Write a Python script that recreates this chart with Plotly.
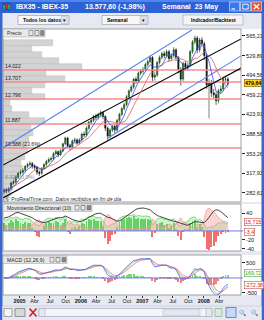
import pandas as pd
import numpy as np
import plotly.graph_objects as go

W, H = 264, 320
FONT = "Liberation Sans"

# ---------------- data ----------------
bar_start = "2004-10-01"
bar_count = 96
bar_step = "14D"
first_open = 284.0
close = [287.9, 286.1, 289.6, 300.2, 302.0, 310.8, 317.9, 319.7, 323.2, 330.3,
         333.8, 335.6, 330.3, 328.5, 319.7, 317.9, 326.7, 333.8, 339.1, 342.6,
         344.4, 353.2, 356.8, 351.5, 358.5, 370.9, 381.5, 367.4, 363.8, 376.2,
         378.0, 372.7, 378.0, 388.6, 386.8, 399.2, 409.8, 413.3, 420.3, 418.6,
         423.9, 427.4, 420.3, 399.2, 385.0, 395.6, 402.7, 395.6, 413.3, 423.9,
         434.5, 441.5, 455.7, 466.3, 473.3, 487.5, 483.9, 498.1, 501.6, 505.1,
         514.0, 519.3, 526.3, 491.0, 494.5, 517.5, 526.3, 533.4, 529.8, 536.9,
         524.6, 529.8, 540.4, 526.3, 505.1, 487.5, 515.7, 508.7, 512.2, 536.9,
         554.6, 561.6, 540.4, 558.1, 551.0, 529.8, 476.9, 480.4, 462.7, 459.2,
         448.6, 466.3, 469.8, 487.5, 487.5, 479.6]
high = [291, 291, 293, 303, 306, 313, 320, 324, 327, 333,
        337, 340, 338, 334, 331, 323, 329, 336, 342, 346,
        348, 356, 360, 359, 361, 373, 384, 383, 371, 379,
        382, 381, 381, 391, 393, 402, 412, 417, 423, 425,
        427, 431, 430, 422, 402, 399, 406, 406, 416, 427,
        437, 445, 459, 469, 477, 490, 492, 501, 506, 509,
        517, 523, 530, 529, 500, 520, 530, 537, 538, 541,
        540, 534, 545, 543, 529, 509, 519, 520, 517, 540,
        558, 566, 565, 562, 563, 555, 533, 488, 486, 470,
        464, 470, 476, 492, 494, 491]
low = [281, 282, 283, 287, 297, 299, 308, 314, 316, 320,
       327, 330, 326, 324, 315, 313, 315, 324, 331, 336,
       339, 342, 350, 347, 349, 356, 368, 363, 359, 361,
       372, 369, 370, 375, 383, 384, 396, 406, 410, 414,
       415, 420, 415, 394, 378, 381, 392, 390, 393, 410,
       421, 431, 439, 452, 463, 470, 479, 481, 494, 497,
       502, 510, 516, 484, 485, 492, 514, 523, 525, 526,
       519, 520, 526, 520, 498, 476, 484, 503, 503, 509,
       533, 550, 534, 536, 545, 522, 470, 416.8, 455, 452,
       441, 444, 461, 466, 480, 475]

di_plus = [26, 24, 27, 31, 29, 32, 30, 27, 26, 29, 28, 27, 20, 17, 13, 12, 19,
           24, 27, 29, 28, 27, 31, 30, 25, 28, 33, 18, 15, 22, 22, 19, 23, 27,
           26, 30, 33, 32, 34, 30, 31, 31, 24, 13, 9, 12, 16, 16, 24,
           29, 32, 33, 35, 36, 35, 37, 33, 35, 34, 33, 34, 33, 32, 14, 18,
           27, 29, 30, 26, 27, 22, 25, 28, 21, 13, 10, 19,
           20, 21, 29, 31, 32, 24, 27, 23, 14, 6, 8, 9, 10, 14, 18, 18, 20, 17, 15.7]
di_minus = [9, 11, 10, 7, 8, 6, 7, 9, 10, 8, 9, 10, 14, 18, 24, 25, 17,
            12, 10, 9, 10, 10, 8, 9, 13, 10, 7, 21, 23, 16, 13, 16, 12, 10,
            10, 8, 6, 7, 6, 8, 8, 8, 12, 30, 38, 34, 26, 24, 14,
            9, 7, 6, 5, 5, 5, 4, 7, 5, 6, 7, 6, 6, 7, 27, 22,
            12, 10, 9, 12, 11, 16, 13, 10, 16, 24, 30, 20,
            17, 16, 10, 9, 8, 16, 12, 15, 28, 48, 52, 46, 44, 38, 30, 26, 22, 21, 19.1]
adx = [29, 30, 32, 35, 38, 41, 42, 40, 38, 36, 35, 33, 30, 26, 23, 21, 20,
       19, 20, 22, 24, 26, 28, 30, 30, 31, 34, 32, 29, 26, 24, 22, 21, 22,
       24, 27, 31, 34, 37, 39, 40, 40, 37, 33, 31, 30, 28, 25, 22,
       23, 26, 30, 34, 38, 42, 46, 49, 51, 52, 52, 51, 50, 48, 43, 38,
       35, 33, 31, 29, 27, 25, 23, 22, 21, 19, 17, 15,
       14, 13, 15, 18, 21, 21, 20, 19, 19, 24, 32, 40, 45, 48, 47, 44, 40, 34, 30]

last_quote = 13577.60
last_axis = 479.64

price_ticks = [565.21, 529.89, 494.56, 459.23, 423.91, 388.58, 353.26, 317.93, 282.61]
price_ticktext = ["565,21", "529,89", "494,56", "459,23", "423,91", "388,58", "353,26", "317,93", "282,61"]
dmi_ticks = [40, -20, -40]
dmi_ticktext = ["40", "-20", "-40"]
macd_ticks = [500, -500]
macd_ticktext = ["500", "-500"]

level_values = [503.9, 482.3, 451.7, 406.6, 363.4]
level_labels = ["14.022", "13.707", "12.796", "11.887", "10.588 (23,6%)"]
fib_base_value = 304.0
fib_base_label = "8.928 (0,0%)"

profile_levels = [552.6, 541.8, 531.0, 520.2, 509.3, 498.5, 487.7, 476.9, 466.1, 455.3,
                  444.5, 433.7, 422.8, 412.0, 401.2, 390.4, 379.6, 368.8, 358.0, 347.2,
                  336.4, 325.5, 314.7, 303.9, 293.1, 282.3, 271.5]
profile_volume = [50, 29, 39, 56, 79, 43, 62, 42, 29, 42, 7, 9, 26, 42, 28, 30, 26,
                  24, 25, 22, 18, 20, 16, 12, 10, 8, 5]

x_range = ["2004-09-25", "2008-08-09"]
black_upper_dates = ["2004-09-25", "2008-08-09"]
black_upper_values = [332.7, 559.8]
black_lower_dates = ["2004-09-25", "2008-08-09"]
black_lower_values = [273.3, 507.5]
blue_upper_dates = ["2004-09-25", "2007-10-22"]
blue_upper_values = [363.4, 576.0]
blue_lower_dates = ["2006-06-11", "2008-08-09"]
blue_lower_values = [381.4, 529.2]

date_tickvals = ["2005-01-01", "2005-04-01", "2005-07-01", "2005-10-01",
                 "2006-01-01", "2006-04-01", "2006-07-01", "2006-10-01",
                 "2007-01-01", "2007-04-01", "2007-07-01", "2007-10-01",
                 "2008-01-01", "2008-04-01"]
date_ticktext = ["<b>2005</b>", "Abr", "Jul", "Oct", "<b>2006</b>", "Abr", "Jul", "Oct",
                 "<b>2007</b>", "Abr", "Jul", "Oct", "<b>2008</b>", "Abr"]

# ---------------- derived ----------------
dates = pd.date_range(bar_start, periods=bar_count, freq=bar_step)
opens = [first_open] + close[:-1]
cs = pd.Series(close)
ma_fast = cs.rolling(5, min_periods=1).mean()
ma_slow = cs.rolling(10, min_periods=1).mean()
q = cs * (last_quote / last_axis)
macd = q.ewm(span=6, adjust=False).mean() - q.ewm(span=13, adjust=False).mean()
signal = macd.ewm(span=4.5, adjust=False).mean()
macd_green = macd.ewm(span=2.5, adjust=False).mean()
macd_hist = macd - signal
dmi_hist = [p - m for p, m in zip(di_plus, di_minus)]


def px(x):
    return x / W


def py(y):
    return 1 - y / H


# panel geometry (pixels)
PL, PR = 3, 241
MAIN = (29, 202)
DMI = (204, 251)
MACD = (255, 295)

fig = go.Figure()

# volume profile (base axes)
fig.add_trace(go.Bar(x=profile_volume, y=profile_levels, orientation="h", width=9.3,
                     marker=dict(color="#d3d3d3", line=dict(color="#b9b9b9", width=0.5)),
                     xaxis="x", yaxis="y", hoverinfo="skip"))

# horizontal levels
for v in level_values:
    fig.add_trace(go.Scatter(x=x_range, y=[v, v], mode="lines",
                             line=dict(color="#f58c8c", width=1.6),
                             xaxis="x2", yaxis="y", hoverinfo="skip"))

# channel lines
for dx, vy, col in [(blue_upper_dates, blue_upper_values, "#5a88f0"),
                    (blue_lower_dates, blue_lower_values, "#5a88f0"),
                    (black_upper_dates, black_upper_values, "#000000"),
                    (black_lower_dates, black_lower_values, "#000000")]:
    fig.add_trace(go.Scatter(x=dx, y=vy, mode="lines", line=dict(color=col, width=1.1),
                             xaxis="x2", yaxis="y", hoverinfo="skip"))

# candles
fig.add_trace(go.Candlestick(x=dates, open=opens, high=high, low=low, close=close,
                             increasing=dict(line=dict(color="#0d3b0d", width=0.6), fillcolor="#2b9a2b"),
                             decreasing=dict(line=dict(color="#000000", width=0.6), fillcolor="#222222"),
                             whiskerwidth=0, xaxis="x2", yaxis="y", hoverinfo="skip"))

# moving averages
fig.add_trace(go.Scatter(x=dates, y=ma_slow, mode="lines", line=dict(color="#e86a6a", width=0.9),
                         xaxis="x2", yaxis="y", hoverinfo="skip"))
fig.add_trace(go.Scatter(x=dates, y=ma_fast, mode="lines", line=dict(color="#3a48f0", width=0.8),
                         xaxis="x2", yaxis="y", hoverinfo="skip"))

# DMI panel
bw = 14 * 86400000 * 0.4
fig.add_trace(go.Bar(x=dates, y=dmi_hist, width=bw,
                     marker=dict(color=["#3cba3c" if h >= 0 else "#f07070" for h in dmi_hist], line=dict(width=0)),
                     xaxis="x3", yaxis="y2", hoverinfo="skip"))
fig.add_trace(go.Scatter(x=dates, y=di_plus, mode="lines", fill="tozeroy",
                         fillcolor="rgba(150,235,150,0.45)", line=dict(color="#5cc85c", width=0.7),
                         xaxis="x3", yaxis="y2", hoverinfo="skip"))
fig.add_trace(go.Scatter(x=dates, y=di_minus, mode="lines", fill="tozeroy",
                         fillcolor="rgba(250,160,160,0.45)", line=dict(color="#f09090", width=0.7),
                         xaxis="x3", yaxis="y2", hoverinfo="skip"))
fig.add_trace(go.Scatter(x=dates, y=adx, mode="lines", line=dict(color="#303030", width=0.9),
                         xaxis="x3", yaxis="y2", hoverinfo="skip"))

# MACD panel
fig.add_trace(go.Bar(x=dates, y=macd_hist, width=bw,
                     marker=dict(color=["#7cd67c" if h >= 0 else "#f08080" for h in macd_hist], line=dict(width=0)),
                     xaxis="x4", yaxis="y3", hoverinfo="skip"))
fig.add_trace(go.Scatter(x=dates, y=macd_green, mode="lines", line=dict(color="#7ad07a", width=0.8),
                         xaxis="x4", yaxis="y3", hoverinfo="skip"))
fig.add_trace(go.Scatter(x=dates, y=signal, mode="lines", line=dict(color="#f07070", width=0.8),
                         xaxis="x4", yaxis="y3", hoverinfo="skip"))
fig.add_trace(go.Scatter(x=dates, y=macd, mode="lines", line=dict(color="#4a5cf5", width=0.8),
                         xaxis="x4", yaxis="y3", hoverinfo="skip"))

# ---------------- chrome ----------------
shapes = []
annotations = []


def rect(x0, y0, x1, y1, fill=None, line=None, lw=0, layer="above"):
    shapes.append(dict(type="rect", xref="paper", yref="paper", x0=px(x0), x1=px(x1),
                       y0=py(y1), y1=py(y0), fillcolor=fill or "rgba(0,0,0,0)",
                       line=dict(color=line or "rgba(0,0,0,0)", width=lw), layer=layer))


def seg(x0, y0, x1, y1, color, lw=1, layer="above"):
    shapes.append(dict(type="line", xref="paper", yref="paper", x0=px(x0), y0=py(y0),
                       x1=px(x1), y1=py(y1), line=dict(color=color, width=lw), layer=layer))


def text(x, y, s, size=5.5, color="black", xanchor="left", bold=False, **kw):
    annotations.append(dict(xref="paper", yref="paper", x=px(x), y=py(y),
                            text=("<b>%s</b>" % s if bold else s), showarrow=False,
                            xanchor=xanchor, yanchor="middle",
                            font=dict(family=FONT, size=size, color=color), **kw))


# title bar
rect(0, 0, 264, 13, fill="#2c62d6")
rect(0, 0, 264, 2, fill="#4f86ee")
rect(2.5, 2.5, 10.5, 10.5, fill="#1f4fb8")
rect(3.3, 5, 4.8, 9.5, fill="#30c030")
rect(5.8, 3.5, 7.3, 8.5, fill="#e03030")
rect(8.3, 4.5, 9.8, 9, fill="#30c030")
text(14, 6.7, "IBX35 - IBEX-35", size=7, color="white", bold=True)
text(83, 6.7, "13.577,60 (-1,98%)", size=7, color="white", bold=True)
text(160, 6.7, "Semanal  23 May", size=7, color="white", bold=True)
rect(229.5, 2, 239.5, 11, fill="#3d78ea", line="#e8eefc", lw=0.6)
seg(231.5, 9, 235, 9, "white", 1.3)
rect(240.5, 2, 250.5, 11, fill="#3d78ea", line="#e8eefc", lw=0.6)
rect(242.8, 4.2, 248.2, 9, line="white", lw=0.9)
rect(251.5, 2, 261.5, 11, fill="#e0563a", line="#f8e8e0", lw=0.6)
seg(253.8, 4.2, 259.2, 9, "white", 1.2)
seg(253.8, 9, 259.2, 4.2, "white", 1.2)

# toolbar
rect(0, 13, 264, 28.5, fill="#e6e9f1")
rect(18, 15.5, 69, 24.5, fill="#f7f7f7", line="#8e96a6", lw=0.6)
text(21, 20, "Todos los datos", size=5, bold=True)
rect(61, 16.5, 68, 23.5, fill="#dfe3ec", line="#a8aebc", lw=0.4)
text(64.5, 20, "▾", size=5, xanchor="center")
rect(102, 15.5, 148, 24.5, fill="#f7f7f7", line="#8e96a6", lw=0.6)
text(105, 20, "Semanal", size=5, bold=True)
rect(140, 16.5, 147, 23.5, fill="#dfe3ec", line="#a8aebc", lw=0.4)
text(143.5, 20, "▾", size=5, xanchor="center")
rect(183, 15, 243, 25, fill="#f3f3f3", line="#a0a4ae", lw=0.6)
text(213, 20, "Indicador/Backtest", size=5, bold=True, xanchor="center")

# window frame
rect(0, 13, 2.5, 320, fill="#3a66d2")
rect(261.5, 13, 264, 320, fill="#3a66d2")

# right axis white areas and panel borders
for (t, b) in [MAIN, DMI, MACD]:
    rect(PR, t, 261.5, b, fill="white", layer="below")
    rect(PL, t, PR, b, line="#8a8a8a", lw=0.8)

# headers
rect(PL, MAIN[0], 45, MAIN[0] + 8, fill="#e9e9e9", line="#9a9a9a", lw=0.5)
text(4.5, MAIN[0] + 4, "Precio", size=5.2, color="#303030")
rect(29, MAIN[0] + 1.5, 33, MAIN[0] + 6.5, line="#555", lw=0.5)
rect(35, MAIN[0] + 1.5, 39, MAIN[0] + 6.5, line="#555", lw=0.6)
rect(40.5, MAIN[0] + 1.5, 44, MAIN[0] + 6.5, fill="#888", line="#555", lw=0.4)
rect(PL, DMI[0], 92, DMI[0] + 7.5, fill="#e9e9e9", line="#9a9a9a", lw=0.5)
text(4.5, DMI[0] + 3.8, "Movimiento Direccional (10)", size=5.2, color="#202020")
rect(75, DMI[0] + 1.5, 79, DMI[0] + 6, line="#555", lw=0.5)
rect(81, DMI[0] + 1.5, 85, DMI[0] + 6, line="#555", lw=0.6)
rect(87, DMI[0] + 1.5, 91, DMI[0] + 6, fill="#888", line="#555", lw=0.4)
rect(PL, MACD[0] + 1, 67, MACD[0] + 8.5, fill="#e9e9e9", line="#9a9a9a", lw=0.5)
text(4.5, MACD[0] + 4.8, "MACD (12,26,9)", size=5.2, color="#202020")
rect(50, MACD[0] + 2.5, 54, MACD[0] + 7, line="#555", lw=0.5)
rect(56, MACD[0] + 2.5, 60, MACD[0] + 7, line="#555", lw=0.6)
rect(62, MACD[0] + 2.5, 66, MACD[0] + 7, fill="#888", line="#555", lw=0.4)

# level labels
for v, lab in zip(level_values, level_labels):
    annotations.append(dict(xref="paper", yref="y", x=px(4), y=v, text=lab, showarrow=False,
                            xanchor="left", yanchor="bottom", borderpad=0,
                            font=dict(family=FONT, size=5.2, color="#202020")))
annotations.append(dict(xref="paper", yref="y", x=px(4), y=fib_base_value, text=fib_base_label,
                        showarrow=False, xanchor="left", yanchor="bottom", borderpad=0,
                        font=dict(family=FONT, size=5.2, color="#8a8a8a")))

# watermark
text(4, 198.5, "© ProRealTime.com  <i>Datos recibidos en fin de día</i>", size=5.2, color="#303030")

# value boxes
text(243.5, 83, "<b>479,64</b>", size=5.3, bgcolor="#ffd21e", bordercolor="#7a5a00", borderwidth=0.6, borderpad=0.5)
text(244, 221.7, "15,715", size=5.3, color="#d02020", bgcolor="white", bordercolor="#c05050", borderwidth=0.6, borderpad=0.5)
text(244, 232, "-3,4", size=5.3, color="#d02020", bgcolor="white", bordercolor="#c05050", borderwidth=0.6, borderpad=0.5)
text(244, 273, "169,72", size=5.3, color="#1f9a1f", bgcolor="white", bordercolor="#40a040", borderwidth=0.6, borderpad=0.5)
text(244, 285, "-272,38", size=5.3, color="#d02020", bgcolor="white", bordercolor="#c05050", borderwidth=0.6, borderpad=0.5)

# zero lines
for yref in ["y2", "y3"]:
    shapes.append(dict(type="line", xref="paper", yref=yref, x0=px(PL), x1=px(243), y0=0, y1=0,
                       line=dict(color="#6f7cf5", width=1), layer="above"))

# bottom toolbar
rect(2.5, 306, 261.5, 320, fill="#e6e9f1")
seg(2.5, 306, 261.5, 306, "#c4c8d4", 0.6)
rect(4, 308.5, 12, 316.5, fill="#f4f4f4", line="#707070", lw=0.6)
rect(15, 308.5, 25, 316.5, fill="#d8d8d8", line="#606060", lw=0.6)
seg(29.5, 308.5, 36.5, 316.5, "#d02020", 1.6)
seg(29.5, 316.5, 36.5, 308.5, "#d02020", 1.6)
rect(39, 308.5, 212, 316.5, fill="#f4f5f8", line="#9aa2b4", lw=0.6)
rect(39, 308.5, 45, 316.5, fill="#e4e8f0", line="#9aa2b4", lw=0.5)
rect(206, 308.5, 212, 316.5, fill="#e4e8f0", line="#9aa2b4", lw=0.5)
rect(163, 309.3, 200, 315.7, fill="#e2e7f2", line="#b0b8cc", lw=0.5)
rect(215, 308.5, 222, 316.5, fill="#dfe6df", line="#60a060", lw=0.5)
rect(226, 307.5, 236, 317.5, fill="#c8d8f8", line="#4060c0", lw=0.7)
text(243, 312.5, "🔍", size=6, xanchor="center")
text(255, 312.5, "🔍", size=6, xanchor="center")

axis_font = dict(family=FONT, size=5.5, color="#111111")
dom_x = [px(PL), px(PR)]

fig.update_layout(
    width=W, height=H, margin=dict(l=0, r=0, t=0, b=0),
    paper_bgcolor="#e6e9f1", plot_bgcolor="white", showlegend=False,
    shapes=shapes, annotations=annotations, bargap=0,
    xaxis=dict(domain=dom_x, range=[0, PR - PL], visible=False, anchor="y", fixedrange=True),
    xaxis2=dict(domain=dom_x, overlaying="x", type="date", range=x_range, visible=False,
                anchor="y", rangeslider=dict(visible=False)),
    xaxis3=dict(domain=dom_x, type="date", matches="x2", anchor="y2", visible=False,
                rangeslider=dict(visible=False)),
    xaxis4=dict(domain=dom_x, type="date", matches="x2", anchor="y3", showgrid=False,
                tickvals=date_tickvals, ticktext=date_ticktext, tickfont=axis_font,
                ticks="outside", ticklen=1.5, tickcolor="#333", showline=False, zeroline=False,
                ticklabelstandoff=-1, rangeslider=dict(visible=False)),
    yaxis=dict(domain=[py(MAIN[1]), py(MAIN[0])], range=[266.1, 577.8], side="right", anchor="x",
               tickvals=price_ticks, ticktext=price_ticktext, tickfont=axis_font,
               ticks="outside", ticklen=3, tickcolor="#222", showgrid=False, zeroline=False),
    yaxis2=dict(domain=[py(DMI[1]), py(DMI[0])], range=[-45.5, 61.1], side="right", anchor="x3",
                tickvals=dmi_ticks, ticktext=dmi_ticktext, tickfont=axis_font,
                ticks="outside", ticklen=3, tickcolor="#222", showgrid=False, zeroline=False),
    yaxis3=dict(domain=[py(MACD[1]), py(MACD[0])], range=[-570, 767], side="right", anchor="x4",
                tickvals=macd_ticks, ticktext=macd_ticktext, tickfont=axis_font,
                ticks="outside", ticklen=3, tickcolor="#222", showgrid=False, zeroline=False),
)

fig.write_html("out.html", config={"displayModeBar": False})
